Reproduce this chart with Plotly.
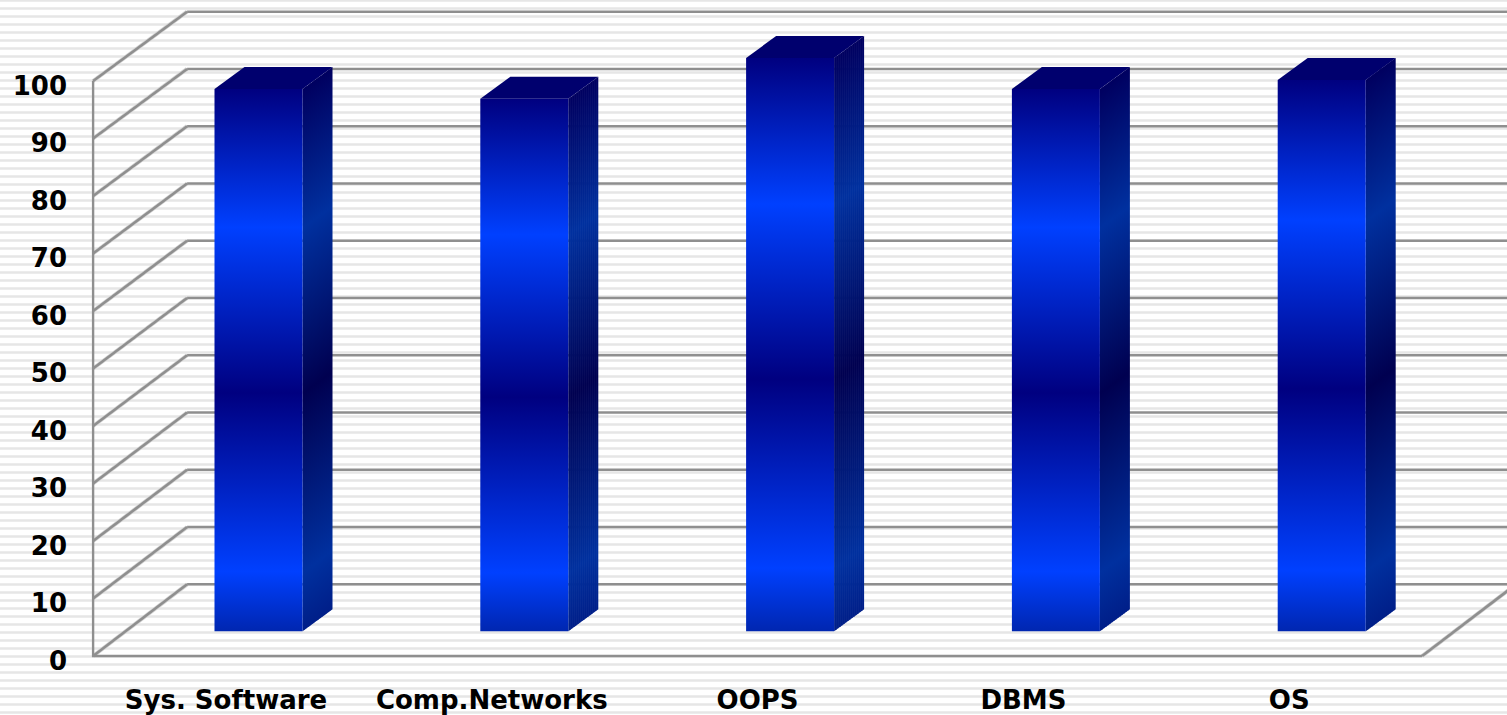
import plotly.graph_objects as go

categories = ["Sys. Software", "Comp.Networks", "OOPS", "DBMS", "OS"]
values = [94.3, 92.6, 99.7, 94.3, 95.9]
tick_values = list(range(0, 101, 10))

W, H = 1507, 715
PLOT_LEFT, PLOT_BOTTOM = 80, 665
FRONT_ZERO = 656
PX_X = 265.8
PX_Y = 5.75
X_CENTER0 = 226
X0 = (PLOT_LEFT - X_CENTER0) / PX_X
X1 = (W - X_CENTER0) / PX_X
Y0 = (FRONT_ZERO - PLOT_BOTTOM) / PX_Y
Y1 = FRONT_ZERO / PX_Y
WALL_LEFT = -0.5
WALL_RIGHT = 4.5
DX = 94 / PX_X


def back_dy(v):
    return (71.7 - 0.024 * v) / PX_Y


LABEL_SHIFT = 4.5 / PX_Y

BAR_OFFSET = 32.5 / PX_X
BAR_HALF = 44 / PX_X
BASE = 24.7 / PX_Y
SIDE_DX = 30 / PX_X
SIDE_DY = 22 / PX_Y

GRID = "#8f8f8f"
FRONT = [[0, "#0026b0"], [0.11, "#0040ff"], [0.44, "#000080"], [0.745, "#0040ff"], [1, "#000080"]]
SIDE = [[0, "#001e88"], [0.11, "#00309f"], [0.44, "#000050"], [0.745, "#00309f"], [1, "#000060"]]
TOP_COLOR = "#00006e"

fig = go.Figure()


def add_line(xs, ys, width=2.5, color=GRID):
    fig.add_trace(go.Scatter(x=xs, y=ys, mode="lines", line=dict(color=color, width=width),
                             hoverinfo="skip", showlegend=False))


# left wall diagonals (with a soft halo) and back wall lines
for v in tick_values:
    add_line([WALL_LEFT, WALL_LEFT + DX], [v, v + back_dy(v)], width=4, color="#d4d4d4")
    add_line([WALL_LEFT, WALL_LEFT + DX], [v, v + back_dy(v)], width=2.6)
    add_line([WALL_LEFT + DX, X1], [v + back_dy(v), v + back_dy(v)], width=2.6)

# frame on the front plane, and the floor's right edge
add_line([WALL_RIGHT, WALL_RIGHT + DX], [0, back_dy(0)], width=4, color="#d4d4d4")
add_line([WALL_RIGHT, WALL_RIGHT + DX], [0, back_dy(0)], width=2.6)
add_line([WALL_LEFT, WALL_LEFT, WALL_RIGHT], [100, 0, 0], width=2.4)


def poly(xs, ys, **kw):
    fig.add_trace(go.Scatter(x=xs, y=ys, mode="lines", line=dict(width=0), fill="toself",
                             hoverinfo="skip", showlegend=False, **kw))


STRIPS = 15
for i, v in enumerate(values):
    xl = i + BAR_OFFSET - BAR_HALF
    xr = i + BAR_OFFSET + BAR_HALF
    top = BASE + v
    # side face, gradient skewed with depth
    for s in range(STRIPS):
        a, b = s / STRIPS, min((s + 1.3) / STRIPS, 1)
        xa, xb = xr + a * SIDE_DX, xr + b * SIDE_DX
        ya, yb = a * SIDE_DY, b * SIDE_DY
        poly([xa, xa, xb, xb, xa],
             [BASE + ya, top + ya, top + yb, BASE + yb, BASE + ya],
             fillgradient=dict(type="vertical", colorscale=SIDE, start=BASE + ya, stop=top + ya))
    # top face
    poly([xl, xl + SIDE_DX, xr + SIDE_DX, xr, xl],
         [top, top + SIDE_DY, top + SIDE_DY, top, top], fillcolor=TOP_COLOR)
    # front face
    poly([xl, xl, xr, xr, xl], [BASE, top, top, BASE, BASE],
         fillgradient=dict(type="vertical", colorscale=FRONT, start=BASE, stop=top))

# horizontal stripes of the page background
plot_w = W - PLOT_LEFT
shapes = []
for n in range(0, H // 8 + 1):
    py = 8 * n + 0.5
    yp = (PLOT_BOTTOM - py) / PLOT_BOTTOM
    shapes.append(dict(type="line", xref="paper", yref="paper", layer="below",
                       x0=-PLOT_LEFT / plot_w, x1=1, y0=yp, y1=yp,
                       line=dict(color="#e6e6e6", width=2.4)))

fig.update_layout(
    width=W, height=H, autosize=False,
    margin=dict(l=PLOT_LEFT, r=0, t=0, b=H - PLOT_BOTTOM, pad=0),
    paper_bgcolor="white", plot_bgcolor="rgba(0,0,0,0)",
    showlegend=False, shapes=shapes,
    font=dict(family="DejaVu Sans", color="black"),
    xaxis=dict(range=[X0, X1], tickmode="array", tickvals=list(range(5)), ticktext=categories,
               showgrid=False, zeroline=False, showline=False, ticks="",
               tickfont=dict(size=26, family="DejaVu Sans", weight="bold"), ticklabelstandoff=17),
    yaxis=dict(range=[Y0, Y1], tickmode="array",
               tickvals=[v - LABEL_SHIFT for v in tick_values], ticktext=[str(v) for v in tick_values],
               showgrid=False, zeroline=False, showline=False, ticks="",
               tickfont=dict(size=26, family="DejaVu Sans", weight="bold"), ticklabelstandoff=12),
)

fig.write_html("out.html", config={"displayModeBar": False},
               post_script="document.body.style.margin='0';document.documentElement.style.overflow='hidden';")
